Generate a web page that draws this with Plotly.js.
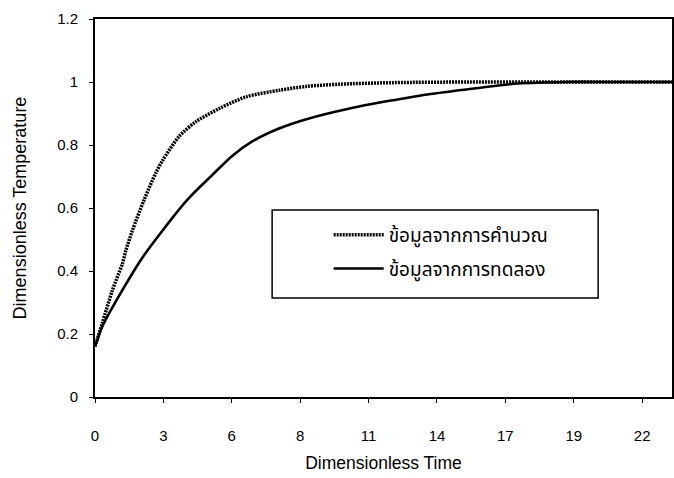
<!DOCTYPE html>
<html>
<head>
<meta charset="utf-8">
<script src="https://cdn.plot.ly/plotly-3.0.1.min.js"></script>
<style>html,body{margin:0;padding:0;background:#fff;}#chart{width:674px;height:478px;}</style>
</head>
<body>
<div id="chart"></div>
<script>
// Calculated (ข้อมูลจากการคำนวณ)
const timeCalc = [0, 0.29, 0.70, 1.10, 1.24, 1.50, 1.98, 2.45, 2.71, 3.39, 4.06, 5.0, 6.08, 7.42, 8.5, 9.84, 12.0, 15.0, 18.0, 21.0, 23.2];
const tempCalc = [0.16, 0.234, 0.339, 0.423, 0.465, 0.528, 0.627, 0.712, 0.75, 0.828, 0.874, 0.916, 0.953, 0.974, 0.986, 0.993, 0.998, 1.0, 1.0, 1.0, 1.0];
// Experimental (ข้อมูลจากการทดลอง)
const timeExp = [0, 0.29, 1.10, 1.91, 2.71, 3.7, 4.73, 5.54, 6.34, 7.42, 8.5, 10.24, 11.99, 13.5, 15.5, 17.0, 19.0, 21.0, 23.2];
const tempExp = [0.16, 0.223, 0.339, 0.443, 0.528, 0.625, 0.706, 0.767, 0.812, 0.853, 0.882, 0.916, 0.942, 0.962, 0.982, 0.995, 1.0, 1.0, 1.0];
const seriesNames = ['ข้อมูลจากการคำนวณ', 'ข้อมูลจากการทดลอง'];
const xTickVals = [0, 2.75, 5.5, 8.25, 11, 13.75, 16.5, 19.25, 22];
const xTickText = ['0', '3', '6', '8', '11', '14', '17', '19', '22'];

const font = 'Liberation Sans, Arial, sans-serif';
const thaiFont = 'Noto Sans Thai, Loma, Garuda, Noto Sans, DejaVu Sans, sans-serif';

const traces = [
  {x: timeCalc, y: tempCalc, name: seriesNames[0], mode: 'lines', legendgroup: 'a',
   line: {color: '#000', width: 3.5, dash: '2px,1px', shape: 'spline', smoothing: 0.8}},
  {x: timeExp, y: tempExp, name: seriesNames[1], mode: 'lines', legendgroup: 'b',
   line: {color: '#000', width: 2.6, shape: 'spline', smoothing: 0.8}}
];

const layout = {
  width: 674, height: 478,
  margin: {l: 95, r: 2, t: 19, b: 81},
  paper_bgcolor: '#fff', plot_bgcolor: '#fff',
  font: {family: font, color: '#000', size: 15},
  showlegend: true,
  legend: {
    x: 0.405, y: 0.479, xanchor: 'left', yanchor: 'top',
    bgcolor: 'rgba(0,0,0,0)', borderwidth: 0,
    traceorder: 'grouped', tracegroupgap: 6,
    itemwidth: 50,
    font: {family: thaiFont, size: 19, color: '#000'}
  },
  shapes: [{type: 'rect', xref: 'paper', yref: 'paper', x0: 0.307, x1: 0.872, y0: 0.262, y1: 0.495,
            line: {color: '#000', width: 1.5}, fillcolor: 'rgba(0,0,0,0)'}],
  xaxis: {
    range: [0, 23.2], tickmode: 'array', tickvals: xTickVals, ticktext: xTickText,
    showgrid: false, zeroline: false, showline: true, linecolor: '#000', linewidth: 2,
    mirror: true, ticks: 'outside', ticklen: 4, tickwidth: 1, tickcolor: '#000',
    ticklabelstandoff: 20,
    tickfont: {family: font, size: 15},
    title: {text: 'Dimensionless Time', font: {family: font, size: 17.5}, standoff: 14}
  },
  yaxis: {
    range: [0, 1.2], dtick: 0.2, tick0: 0,
    showgrid: false, zeroline: false, showline: true, linecolor: '#000', linewidth: 2,
    mirror: true, ticks: 'outside', ticklen: 4, tickwidth: 1, tickcolor: '#000',
    ticklabelstandoff: 8,
    tickfont: {family: font, size: 15},
    title: {text: 'Dimensionless Temperature', font: {family: font, size: 18}, standoff: 26}
  }
};

Plotly.newPlot('chart', traces, layout, {displayModeBar: false, staticPlot: true});
</script>
</body>
</html>
